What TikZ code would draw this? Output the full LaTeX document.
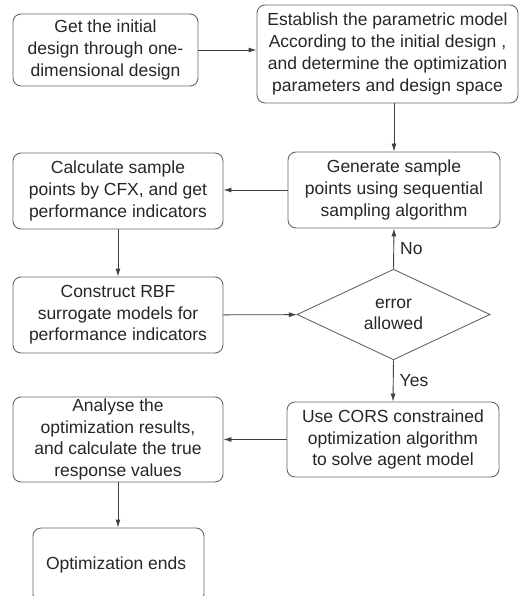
\documentclass[tikz,border=0pt]{standalone}
\usepackage{fontspec}
\setmainfont{Liberation Sans}
\usetikzlibrary{positioning, arrows.meta, shapes.geometric}

\begin{document}
\begin{tikzpicture}[
		x=1pt, y=-1pt,
		>={Latex[length=8pt,width=5pt]},
		% Style for the process boxes
		process/.style={
			draw=black!60, line width=0.9pt, rounded corners=8pt, align=center,
			inner sep=1pt, text=black!85, font=\fontsize{17.5}{21.7}\selectfont
		},
		% Style for the decision diamond
		decision/.style={
			diamond, draw=black!60, line width=0.9pt, align=center, inner sep=0pt,
			text=black!85, font=\fontsize{17.5}{21.7}\selectfont
		},
		% Style for the connectors and their labels
		flow/.style={->, line width=0.9pt, black!75},
		answer/.style={midway, right, inner sep=6pt, text=black!85,
			font=\fontsize{17.5}{21.7}\selectfont}
		]
		
		\useasboundingbox (0,0) rectangle (521,596);
		
		% ==========================================
		% 1. THE TOP ROW: initial design and model
		% ==========================================
		\node[process, minimum width=185pt, minimum height=72pt] (init) at (105.5,50) {
			Get the initial\\ design through one-\\ dimensional design
		};
		\node[process, minimum width=261pt, minimum height=98pt] (model) at (387.5,54) {
			Establish the parametric model\\ According to the initial design ,\\
			and determine the optimization\\ parameters and design space
		};
		\draw[flow] (init.east) -- (init.east -| model.west);
		
		% ==========================================
		% 2. THE LOOP: sampling, CFX and surrogate
		% ==========================================
		\node[process, minimum width=212pt, minimum height=76pt] (sample) at (394,190) {
			Generate sample\\ points using sequential\\ sampling algorithm
		};
		\node[process, minimum width=210pt, minimum height=76pt] (cfx) at (118,191) {
			Calculate sample\\ points by CFX, and get\\ performance indicators
		};
		\node[process, minimum width=210pt, minimum height=76pt] (rbf) at (118,315) {
			Construct RBF\\ surrogate models for\\ performance indicators
		};
		\node[decision, minimum width=193pt, minimum height=77pt] (error) at (393.5,314.5) {
			error\\ allowed
		};
		
		\draw[flow] (model.south -| sample) -- (sample.north);
		\draw[flow] (sample.west) -- (sample.west -| cfx.east);
		\draw[flow] (cfx) -- (rbf);
		\draw[flow] (rbf) -- (error);
		\draw[flow] (error.north) -- (sample.south) node[answer] {No};
		
		% ==========================================
		% 3. THE BOTTOM: optimization and results
		% ==========================================
		\node[process, minimum width=212pt, minimum height=75pt] (cors) at (393,439.5) {
			Use CORS constrained\\ optimization algorithm\\ to solve agent model
		};
		\node[process, minimum width=210pt, minimum height=85pt] (analyse) at (118,439.5) {
			Analyse the\\ optimization results,\\ and calculate the true\\ response values
		};
		\node[process, minimum width=171pt, minimum height=74pt] (ends) at (118.5,565) {
			Optimization ends
		};
		
		\draw[flow] (error.south) -- (cors.north) node[answer] {Yes};
		\draw[flow] (cors) -- (analyse);
		\draw[flow] (analyse) -- (analyse |- ends.north);
		
	\end{tikzpicture}
\end{document}
